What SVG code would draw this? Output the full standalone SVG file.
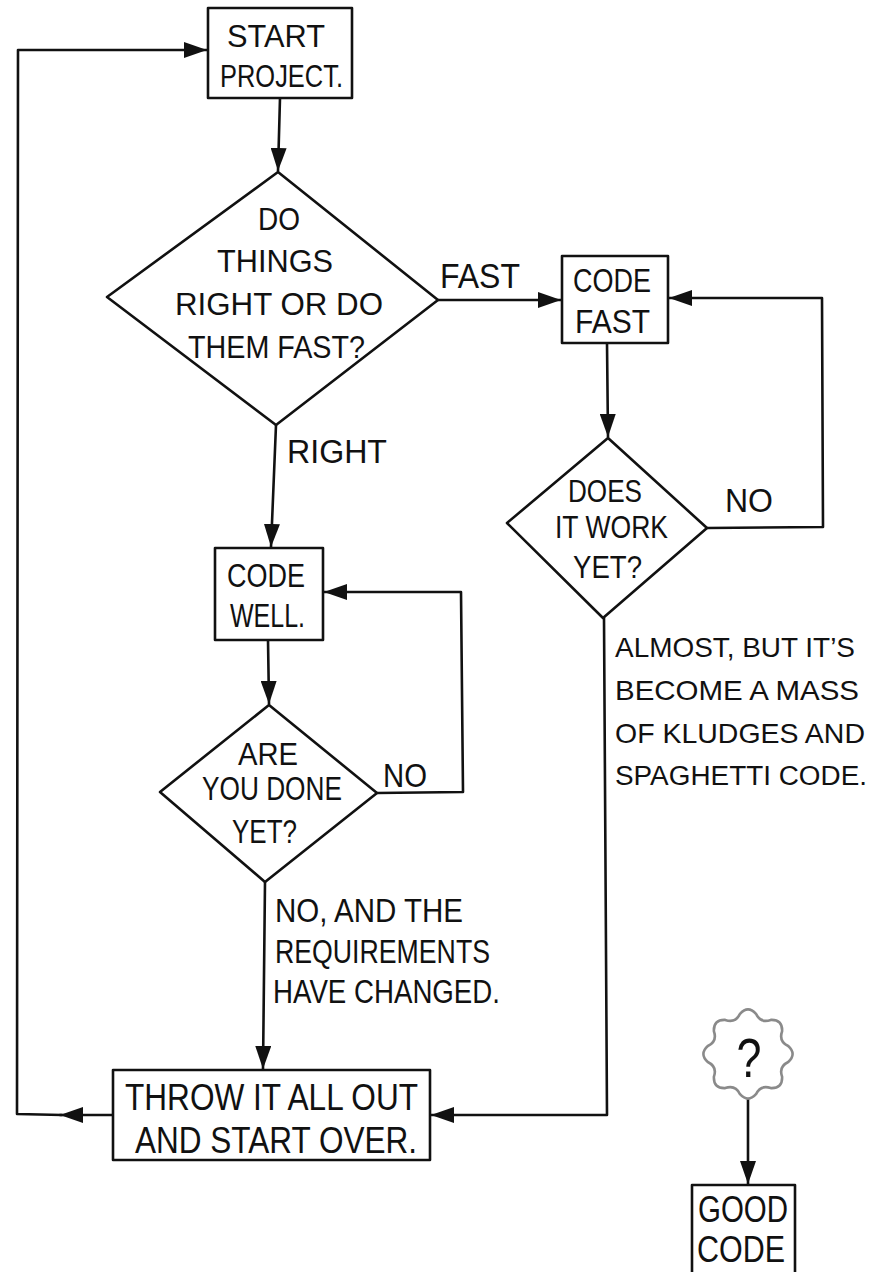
<svg xmlns="http://www.w3.org/2000/svg" width="880" height="1272" viewBox="0 0 880 1272">
<defs>
<style>
.t{font-family:"Liberation Sans",Arial,sans-serif;fill:#111;}
.ln{fill:none;stroke:#111;stroke-width:2.6;stroke-linejoin:round;stroke-linecap:round;}
.nd{fill:#fff;stroke:#111;stroke-width:2.6;stroke-linejoin:round;}
.cl{fill:#fff;stroke:#8a8a8a;stroke-width:2.6;stroke-linejoin:round;}
</style>
<marker id="ah" markerUnits="userSpaceOnUse" markerWidth="24" markerHeight="16" refX="23" refY="8" orient="auto">
<path d="M0,0 L23,8 L0,16 z" fill="#111"/>
</marker>
</defs>
<rect width="880" height="1272" fill="#fff"/>

<g id="connectors">
<path class="ln" d="M280,98 L278,171" marker-end="url(#ah)"/>
<path class="ln" d="M438,300 L561,300" marker-end="url(#ah)"/>
<path class="ln" d="M276,425 L271,547" marker-end="url(#ah)"/>
<path class="ln" d="M607,343 L608,437" marker-end="url(#ah)"/>
<path class="ln" d="M707,528 L823,527 L822,298 L669,298" marker-end="url(#ah)"/>
<path class="ln" d="M268,640 L269,704" marker-end="url(#ah)"/>
<path class="ln" d="M377,793 L463,792 L461,592 L324,592" marker-end="url(#ah)"/>
<path class="ln" d="M265,882 L263,1069" marker-end="url(#ah)"/>
<path class="ln" d="M604,618 L607,1115 L431,1115" marker-end="url(#ah)"/>
<path class="ln" d="M113,1115 L60,1115" marker-end="url(#ah)"/>
<path class="ln" d="M62,1115 L17,1114 L18,50 L207,50" marker-end="url(#ah)"/>
<path class="ln" d="M748,1099 L748,1184" marker-end="url(#ah)"/>
</g>

<g id="start">
<rect class="nd" x="208" y="8" width="144" height="90"/>
<text class="t" font-size="31" x="227" y="47" textLength="98" lengthAdjust="spacingAndGlyphs">START</text>
<text class="t" font-size="32" x="220" y="87" textLength="123" lengthAdjust="spacingAndGlyphs">PROJECT.</text>
</g>

<g id="decide">
<path class="nd" d="M278,172 L438,300 L276,425 L107,297 Z"/>
<text class="t" font-size="31" x="258" y="230" textLength="42" lengthAdjust="spacingAndGlyphs">DO</text>
<text class="t" font-size="31" x="217" y="272" textLength="116" lengthAdjust="spacingAndGlyphs">THINGS</text>
<text class="t" font-size="31" x="175" y="315" textLength="208" lengthAdjust="spacingAndGlyphs">RIGHT OR DO</text>
<text class="t" font-size="31" x="188" y="358" textLength="177" lengthAdjust="spacingAndGlyphs">THEM FAST?</text>
</g>

<g id="label-fast">
<text class="t" font-size="35" x="440" y="288" textLength="80" lengthAdjust="spacingAndGlyphs">FAST</text>
</g>

<g id="label-right">
<text class="t" font-size="34" x="287" y="463" textLength="100" lengthAdjust="spacingAndGlyphs">RIGHT</text>
</g>

<g id="code-fast">
<rect class="nd" x="562" y="256" width="106" height="87"/>
<text class="t" font-size="34" x="573" y="292" textLength="78" lengthAdjust="spacingAndGlyphs">CODE</text>
<text class="t" font-size="34" x="575" y="333" textLength="75" lengthAdjust="spacingAndGlyphs">FAST</text>
</g>

<g id="does-it-work">
<path class="nd" d="M608,438 L707,528 L603,618 L507,523 Z"/>
<text class="t" font-size="31" x="568" y="502" textLength="74" lengthAdjust="spacingAndGlyphs">DOES</text>
<text class="t" font-size="31" x="555" y="538" textLength="113" lengthAdjust="spacingAndGlyphs">IT WORK</text>
<text class="t" font-size="31" x="573" y="578" textLength="69" lengthAdjust="spacingAndGlyphs">YET?</text>
</g>

<g id="label-no-fast">
<text class="t" font-size="34" x="725" y="512" textLength="48" lengthAdjust="spacingAndGlyphs">NO</text>
</g>

<g id="code-well">
<rect class="nd" x="215" y="548" width="108" height="92"/>
<text class="t" font-size="34" x="227" y="587" textLength="78" lengthAdjust="spacingAndGlyphs">CODE</text>
<text class="t" font-size="33" x="230" y="627" textLength="75" lengthAdjust="spacingAndGlyphs">WELL.</text>
</g>

<g id="are-you-done">
<path class="nd" d="M269,705 L377,793 L265,882 L160,792 Z"/>
<text class="t" font-size="32" x="238" y="765" textLength="60" lengthAdjust="spacingAndGlyphs">ARE</text>
<text class="t" font-size="33" x="202" y="800" textLength="140" lengthAdjust="spacingAndGlyphs">YOU DONE</text>
<text class="t" font-size="33" x="232" y="843" textLength="65" lengthAdjust="spacingAndGlyphs">YET?</text>
</g>

<g id="label-no-well">
<text class="t" font-size="33" x="383" y="787" textLength="44" lengthAdjust="spacingAndGlyphs">NO</text>
</g>

<g id="label-requirements">
<text class="t" font-size="34" x="275" y="922" textLength="188" lengthAdjust="spacingAndGlyphs">NO, AND THE</text>
<text class="t" font-size="34" x="275" y="963" textLength="215" lengthAdjust="spacingAndGlyphs">REQUIREMENTS</text>
<text class="t" font-size="34" x="273" y="1003" textLength="227" lengthAdjust="spacingAndGlyphs">HAVE CHANGED.</text>
</g>

<g id="label-almost">
<text class="t" font-size="28" x="615" y="657" textLength="240" lengthAdjust="spacingAndGlyphs">ALMOST, BUT IT’S</text>
<text class="t" font-size="28" x="615" y="700" textLength="244" lengthAdjust="spacingAndGlyphs">BECOME A MASS</text>
<text class="t" font-size="28" x="615" y="743" textLength="250" lengthAdjust="spacingAndGlyphs">OF KLUDGES AND</text>
<text class="t" font-size="27" x="615" y="785" textLength="252" lengthAdjust="spacingAndGlyphs">SPAGHETTI CODE.</text>
</g>

<g id="throw-out">
<rect class="nd" x="113" y="1070" width="317" height="90"/>
<text class="t" font-size="37" x="125" y="1110" textLength="293" lengthAdjust="spacingAndGlyphs">THROW IT ALL OUT</text>
<text class="t" font-size="37" x="135" y="1153" textLength="282" lengthAdjust="spacingAndGlyphs">AND START OVER.</text>
</g>

<g id="mystery">
<path class="cl" d="M788.2,1062 Q778.5,1066.6 782.1,1076.8 Q782.6,1088.6 770.8,1088.1 Q760.6,1084.5 756,1094.2 Q748,1103 740,1094.2 Q735.4,1084.5 725.2,1088.1 Q713.4,1088.6 713.9,1076.8 Q717.5,1066.6 707.8,1062 Q699,1054 707.8,1046 Q717.5,1041.4 713.9,1031.2 Q713.4,1019.4 725.2,1019.9 Q735.4,1023.5 740,1013.8 Q748,1005 756,1013.8 Q760.6,1023.5 770.8,1019.9 Q782.6,1019.4 782.1,1031.2 Q778.5,1041.4 788.2,1046 Q797,1054 788.2,1062 Z"/>
<text class="t" font-size="56" text-anchor="middle" transform="translate(749,1077) scale(0.8,1)">?</text>
</g>

<g id="good-code">
<path class="nd" d="M692,1280 L692,1185 L795,1185 L795,1280"/>
<text class="t" font-size="36" x="698" y="1222" textLength="90" lengthAdjust="spacingAndGlyphs">GOOD</text>
<text class="t" font-size="36" x="697" y="1262" textLength="88" lengthAdjust="spacingAndGlyphs">CODE</text>
</g>
</svg>
